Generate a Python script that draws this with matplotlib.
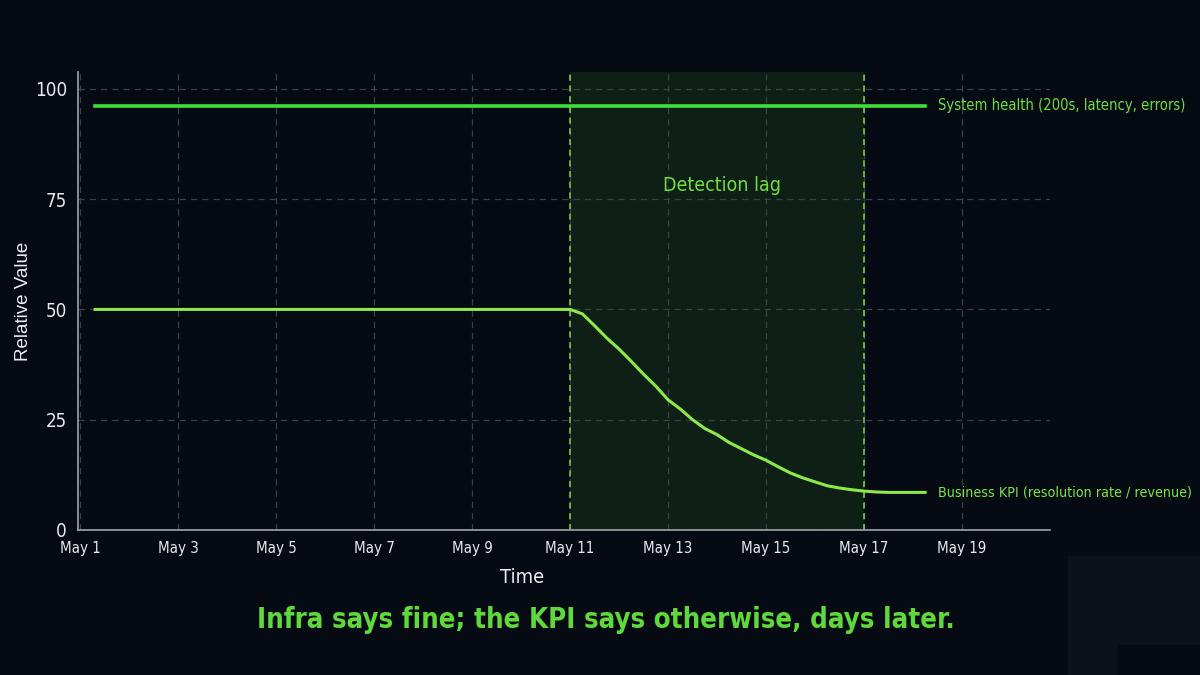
import datetime as dt
import matplotlib
matplotlib.use("Agg")
import matplotlib.pyplot as plt
import matplotlib.dates as mdates
from matplotlib import font_manager
from matplotlib.patches import Rectangle

# data
health_dates = ["2024-05-01 07:00", "2024-05-18 06:00"]
health_values = [96.2, 96.2]

kpi_days = [1.3, 11.0, 11.25, 11.5, 11.75, 12.0, 12.25, 12.5, 12.75, 13.0, 13.25,
            13.5, 13.75, 14.0, 14.25, 14.5, 14.75, 15.0, 15.25, 15.5, 15.75,
            16.0, 16.25, 16.5, 16.75, 17.0, 17.25, 17.5, 18.0, 18.25]
kpi_values = [50.0, 50.0, 49.0, 46.3, 43.5, 41.0, 38.2, 35.3, 32.6, 29.5, 27.4,
              25.0, 23.0, 21.6, 19.8, 18.4, 17.0, 15.8, 14.3, 12.9, 11.8,
              10.9, 10.0, 9.5, 9.1, 8.8, 8.6, 8.5, 8.5, 8.5]

lag_start = "2024-05-11"
lag_end = "2024-05-17"
tick_days = [1, 3, 5, 7, 9, 11, 13, 15, 17, 19]
y_ticks = [0, 25, 50, 75, 100]

title = "Infra says fine; the KPI says otherwise, days later."
health_label = "System health (200s, latency, errors)"
kpi_label = "Business KPI (resolution rate / revenue)"

# pick a condensed face if there is one
cond = None
for f in font_manager.fontManager.ttflist:
    if f.stretch in ("condensed", "semi-condensed") and f.name in (
            "Roboto", "Roboto Condensed", "DejaVu Sans", "Open Sans", "Liberation Sans Narrow", "Noto Sans"):
        cond = (f.name, f.stretch)
        break
names = {f.name for f in font_manager.fontManager.ttflist}
if "Liberation Sans Narrow" in names:
    cond = ("Liberation Sans Narrow", "normal")
if cond is None:
    cond = ("Roboto", "normal")
cfont = dict(family=cond[0], stretch=cond[1])

BG = "#060a12"
base = dt.datetime(2024, 4, 30)
to_date = lambda d: base + dt.timedelta(days=d)

fig = plt.figure(figsize=(12, 6.75), dpi=100, facecolor=BG)
fig.patches.append(Rectangle((1068 / 1200, 0), 132 / 1200, 119 / 675,
                             transform=fig.transFigure, color="#0d1119", zorder=0))
fig.patches.append(Rectangle((1118 / 1200, 0), 82 / 1200, 30 / 675,
                             transform=fig.transFigure, color=BG, zorder=0))
ax = fig.add_axes([0.065, 0.215, 0.81, 0.678])
ax.set_facecolor(BG)

hx = [dt.datetime.strptime(s, "%Y-%m-%d %H:%M") for s in health_dates]
kx = [to_date(d) for d in kpi_days]

ax.axvspan(dt.datetime.fromisoformat(lag_start), dt.datetime.fromisoformat(lag_end),
           color="#1f4a1c", alpha=0.35, lw=0, zorder=1)
for d in (lag_start, lag_end):
    ax.axvline(dt.datetime.fromisoformat(d), color="#86d446", lw=1.1,
               ls=(0, (4, 3)), zorder=2)

ax.plot(hx, health_values, color="#3fe03a", lw=2.6, zorder=4)
ax.plot(kx, kpi_values, color="#8ee84c", lw=2.2, zorder=4)

ax.annotate(health_label, (hx[-1], health_values[-1]), xytext=(9, 0),
            textcoords="offset points", va="center", ha="left",
            color="#6cde42", fontsize=10.6, **cfont)
ax.annotate(kpi_label, (kx[-1], kpi_values[-1]), xytext=(9, 0),
            textcoords="offset points", va="center", ha="left",
            color="#7ee34a", fontsize=10.3, **cfont)
ax.text(to_date(14.1), 78, "Detection lag", ha="center", va="center",
        color="#72dc42", fontsize=14, **cfont)

ax.set_xlim(to_date(0.95), to_date(20.8))
ax.set_ylim(0, 103.8)
ax.set_xticks([to_date(d) for d in tick_days])
ax.xaxis.set_major_formatter(mdates.DateFormatter("May %-d"))
ax.set_yticks(y_ticks)

ax.grid(True, color="#3a4049", ls=(0, (5, 4)), lw=0.9, zorder=0)
for s in ("top", "right"):
    ax.spines[s].set_visible(False)
for s in ("left", "bottom"):
    ax.spines[s].set_color("#a0a4a8")
    ax.spines[s].set_linewidth(1.2)
ax.tick_params(length=0, pad=8)
for lab in ax.get_xticklabels():
    lab.set_color("#e8eaec")
    lab.set_fontsize(10.8)
    lab.set_fontfamily(cfont["family"])
    lab.set_fontstretch(cfont["stretch"])
for lab in ax.get_yticklabels():
    lab.set_color("#e8eaec")
    lab.set_fontsize(13.5)
    lab.set_fontfamily(cfont["family"])
    lab.set_fontstretch(cfont["stretch"])

ax.set_xlabel("Time", color="#eceef0", fontsize=14.5, va="center", **cfont)
ax.xaxis.set_label_coords(0.457, -0.105)
ax.set_ylabel("Relative Value", color="#eceef0", fontsize=13.5, labelpad=2,
              family="Liberation Sans")

fig.text(0.505, 0.081, title, ha="center", va="center", color="#5ed83c",
         fontsize=19.8, fontweight="semibold", **cfont)

fig.savefig("out.png", dpi=100, facecolor=BG)
